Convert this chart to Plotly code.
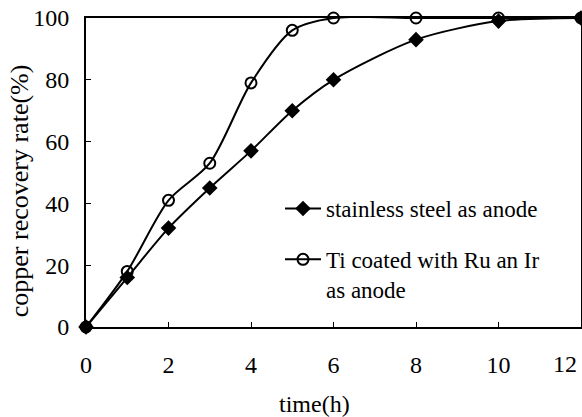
import plotly.graph_objects as go

# Recovery data (time in hours, recovery in %)
time_h = [0, 1, 2, 3, 4, 5, 6, 8, 10, 12]
steel_recovery = [0, 16, 32, 45, 57, 70, 80, 93, 99, 100]
ti_recovery = [0, 18, 41, 53, 79, 96, 100, 100, 100, 100]

x_ticks = [0, 2, 4, 6, 8, 10, 12]
x_tick_text = ["0", "2", "4", "6", "8", "10", ""]  # last label drawn separately
last_x_label = "12"
y_ticks = [0, 20, 40, 60, 80, 100]

x_title = "time(h)"
y_title = "copper recovery rate(%)"

font_family = "'Liberation Serif', 'Times New Roman', Times, serif"

fig = go.Figure()
fig.add_trace(go.Scatter(
    x=time_h, y=steel_recovery, mode="lines+markers",
    name="stainless steel as anode", legendgroup="steel",
    line=dict(color="black", width=2, shape="spline", smoothing=0.8),
    marker=dict(symbol="diamond", size=12, color="black"),
    cliponaxis=False,
))
fig.add_trace(go.Scatter(
    x=time_h, y=ti_recovery, mode="lines+markers",
    name="Ti coated with Ru an Ir<br>as anode", legendgroup="ti",
    line=dict(color="black", width=2, shape="spline", smoothing=0.8),
    marker=dict(symbol="circle-open", size=11, color="black", line=dict(width=2)),
    cliponaxis=False,
))

# right-most tick label, nudged inward so it stays inside the figure
fig.add_annotation(
    text=last_x_label, xref="x", yref="paper", x=x_ticks[-1], y=-0.12,
    xanchor="right", yanchor="middle", xshift=-2, showarrow=False,
    font=dict(family=font_family, size=24, color="black"),
)

# axis titles placed as annotations
fig.add_annotation(
    text=y_title, xref="paper", yref="paper", x=-0.135, y=0.44,
    xanchor="center", yanchor="middle", textangle=-90, showarrow=False,
    font=dict(family=font_family, size=26, color="black"),
)
fig.add_annotation(
    text=x_title, xref="paper", yref="paper", x=0.461, y=-0.25,
    xanchor="center", yanchor="middle", showarrow=False,
    font=dict(family=font_family, size=24, color="black"),
)

fig.update_layout(
    template="none",
    width=582, height=417,
    margin=dict(l=86, r=1, t=18, b=90),
    paper_bgcolor="white", plot_bgcolor="white",
    font=dict(family=font_family, size=24, color="black"),
    showlegend=True,
    legend=dict(
        x=(280 - 86) / 495, y=0.453, xanchor="left", yanchor="top",
        bgcolor="rgba(0,0,0,0)", font=dict(family=font_family, size=23),
        tracegroupgap=18, valign="top", itemwidth=36,
    ),
    xaxis=dict(
        range=[0, 12], tickvals=x_ticks, ticktext=x_tick_text,
        ticks="inside", ticklen=5,
        tickwidth=1, tickcolor="black", showline=True, linewidth=2,
        linecolor="black", mirror=True, showgrid=False, zeroline=False,
        ticklabelstandoff=15, ticklabeloverflow="allow",
        tickfont=dict(family=font_family, size=24),
    ),
    yaxis=dict(
        range=[0, 100], tickvals=y_ticks, ticks="inside", ticklen=5,
        tickwidth=1, tickcolor="black", showline=True, linewidth=2,
        linecolor="black", mirror=True, showgrid=False, zeroline=False,
        ticklabelstandoff=10, ticklabeloverflow="allow",
        tickfont=dict(family=font_family, size=24),
    ),
)

fig.write_html("out.html")
